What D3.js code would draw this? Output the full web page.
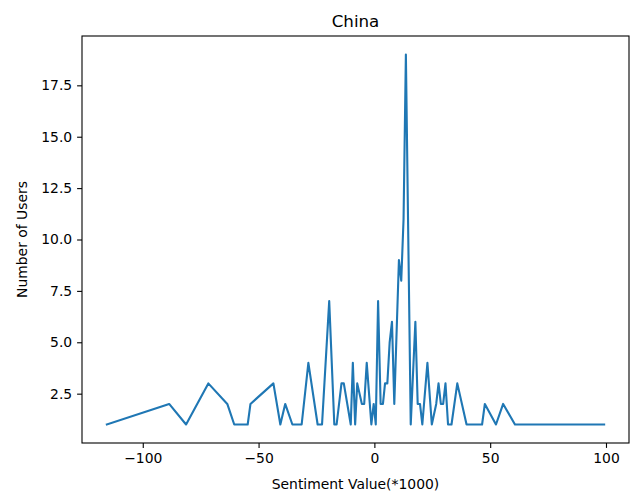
<!DOCTYPE html>
<html>
<head>
<meta charset="utf-8">
<script src="https://cdn.jsdelivr.net/npm/d3@7"></script>
<style>
  body { margin: 0; background: #fff; }
  text { font-family: "DejaVu Sans", sans-serif; fill: #000; }
</style>
</head>
<body>
<div id="chart"></div>
<script>
// sentiment value (*1000) and number of users
var sentiment = [-115.5, -88.6, -81.3, -71.7, -63.5, -60.5, -54.7, -53.5, -43.6, -40.6,
    -38.5, -35.4, -31.4, -28.5, -24.5, -22.6, -19.5, -17.3, -16.3, -14.2,
    -13.2, -10.2, -9.3, -8.3, -7.4, -5.4, -4.4, -3.3, -1.3, -0.3,
    0.6, 1.6, 2.7, 3.7, 4.6, 5.6, 6.6, 7.6, 8.6, 10.6,
    11.6, 12.6, 13.6, 15.7, 17.7, 18.7, 19.7, 20.7, 22.9, 24.8,
    26.7, 27.7, 28.7, 29.7, 30.7, 31.8, 33.3, 35.8, 39.8, 46.5,
    47.7, 52.5, 55.6, 60.7, 99.2];
var users = [1, 2, 1, 3, 2, 1, 1, 2, 3, 1,
    2, 1, 1, 4, 1, 1, 7, 1, 1, 3,
    3, 1, 4, 1, 3, 2, 2, 4, 1, 2,
    1, 7, 2, 2, 3, 3, 5, 6, 2, 9,
    8, 11, 19, 1, 6, 2, 2, 1, 4, 1,
    2, 3, 2, 2, 3, 1, 1, 3, 1, 1,
    2, 1, 2, 1, 1];
var xTicks = [-100, -50, 0, 50, 100];
var yTicks = [2.5, 5.0, 7.5, 10.0, 12.5, 15.0, 17.5];

var width = 630, height = 493;
var plotLeft = 82, plotRight = 629, plotTop = 36, plotBottom = 443;

var data = sentiment.map(function(s, i) { return {x: s, y: users[i]}; });

var svg = d3.select("#chart").append("svg")
    .attr("width", width)
    .attr("height", height);

// matplotlib style 5% margins
function pad(ext) {
    var d = (ext[1] - ext[0]) * 0.05;
    return [ext[0] - d, ext[1] + d];
}

var x = d3.scaleLinear()
    .domain(pad(d3.extent(sentiment)))
    .range([plotLeft, plotRight]);

var y = d3.scaleLinear()
    .domain(pad(d3.extent(users)))
    .range([plotBottom, plotTop]);

var minus = function(v) { return d3.format("d")(v).replace("-", "\u2212"); };

var xAxis = svg.append("g")
    .attr("transform", "translate(0," + plotBottom + ")")
    .call(d3.axisBottom(x).tickValues(xTicks).tickFormat(minus).tickSize(4.9).tickPadding(4.9));

var yAxis = svg.append("g")
    .attr("transform", "translate(" + plotLeft + ",0)")
    .call(d3.axisLeft(y).tickValues(yTicks).tickFormat(d3.format(".1f")).tickSize(4.9).tickPadding(4.9));

[xAxis, yAxis].forEach(function(a) {
    a.select(".domain").remove();
    a.selectAll("line").attr("stroke", "#000").attr("stroke-width", 1.1);
    a.selectAll("text")
        .style("font-family", "DejaVu Sans")
        .style("font-size", "13.9px")
        .attr("fill", "#000");
});

var line = d3.line()
    .x(function(d) { return x(d.x); })
    .y(function(d) { return y(d.y); });

svg.append("path")
    .datum(data)
    .attr("fill", "none")
    .attr("stroke", "#1f77b4")
    .attr("stroke-width", 2.1)
    .attr("stroke-linejoin", "round")
    .attr("stroke-linecap", "square")
    .attr("d", line);

// frame
svg.append("rect")
    .attr("x", plotLeft)
    .attr("y", plotTop)
    .attr("width", plotRight - plotLeft)
    .attr("height", plotBottom - plotTop)
    .attr("fill", "none")
    .attr("stroke", "#000")
    .attr("stroke-width", 1.1);

svg.append("text")
    .attr("x", (plotLeft + plotRight) / 2)
    .attr("y", plotTop - 9)
    .attr("text-anchor", "middle")
    .style("font-size", "16.7px")
    .text("China");

svg.append("text")
    .attr("x", (plotLeft + plotRight) / 2)
    .attr("y", 489)
    .attr("text-anchor", "middle")
    .style("font-size", "13.9px")
    .text("Sentiment Value(*1000)");

svg.append("text")
    .attr("transform", "translate(27," + ((plotTop + plotBottom) / 2) + ") rotate(-90)")
    .attr("text-anchor", "middle")
    .style("font-size", "13.9px")
    .text("Number of Users");
</script>
</body>
</html>
